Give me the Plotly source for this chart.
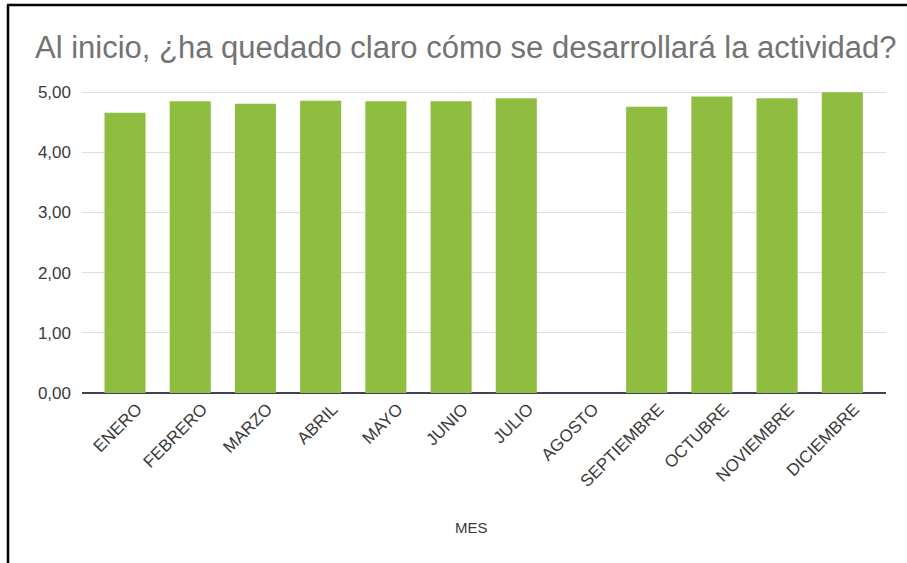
import plotly.graph_objects as go

meses = ["ENERO", "FEBRERO", "MARZO", "ABRIL", "MAYO", "JUNIO", "JULIO",
         "AGOSTO", "SEPTIEMBRE", "OCTUBRE", "NOVIEMBRE", "DICIEMBRE"]
valores = [4.66, 4.85, 4.81, 4.86, 4.85, 4.85, 4.90, None, 4.76, 4.93, 4.90, 5.00]
y_ticks = [0, 1, 2, 3, 4, 5]
titulo = "Al inicio, ¿ha quedado claro cómo se desarrollará la actividad?"
eje_x = "MES"

W, H = 907, 563
L, R, T, B = 82, 21, 91, 170
pw, ph = W - L - R, H - T - B
FONT = "Liberation Sans, Arial, sans-serif"

fig = go.Figure(go.Bar(
    x=meses, y=valores,
    marker=dict(color="#8fbd40", line=dict(width=0)),
    width=0.63,
))

fig.update_layout(
    width=W, height=H,
    margin=dict(l=L, r=R, t=T, b=B, pad=0),
    paper_bgcolor="white", plot_bgcolor="white",
    separators=",.",
    font=dict(family=FONT, color="#3a3a3a", size=14),
    title=dict(text=titulo, x=35 / W, xref="container", xanchor="left",
               y=1 - 47 / H, yref="container", yanchor="middle",
               font=dict(size=31, color="#737373", family=FONT)),
    showlegend=False,
)
fig.update_xaxes(
    type="category", range=[-0.66, 11.67], tickangle=-45,
    showgrid=False, showline=False, zeroline=False, ticks="",
    ticklabelshift=12, ticklabelstandoff=2,
    tickfont=dict(size=17, color="#3a3a3a", family=FONT),
)
fig.update_yaxes(
    range=[0, 5.02], tickvals=y_ticks, tickformat=".2f",
    showgrid=True, gridcolor="#dedede", gridwidth=1,
    zeroline=True, zerolinecolor="#3d4452", zerolinewidth=2,
    showline=False, ticks="", ticklabelstandoff=10,
    tickfont=dict(size=17, color="#3a3a3a", family=FONT),
)

fig.add_annotation(text=eje_x, xref="paper", yref="paper",
                   x=(471 - L) / pw, y=-(527 - (T + ph)) / ph,
                   showarrow=False, font=dict(size=15, color="#3a3a3a", family=FONT),
                   xanchor="center", yanchor="middle")

# frame (left and top borders)
def px_x(v):
    return (v - L) / pw

def px_y(v):
    return (T + ph - v) / ph

fig.add_shape(type="line", xref="paper", yref="paper",
              x0=px_x(8), x1=px_x(8), y0=px_y(5), y1=px_y(H + 5),
              line=dict(color="black", width=2.5))
fig.add_shape(type="line", xref="paper", yref="paper",
              x0=px_x(7), x1=px_x(W + 5), y0=px_y(5), y1=px_y(5),
              line=dict(color="black", width=2.5))

fig.write_html("out.html", config={"displayModeBar": False},
               post_script="document.body.style.margin='0';document.body.style.overflow='hidden';")
